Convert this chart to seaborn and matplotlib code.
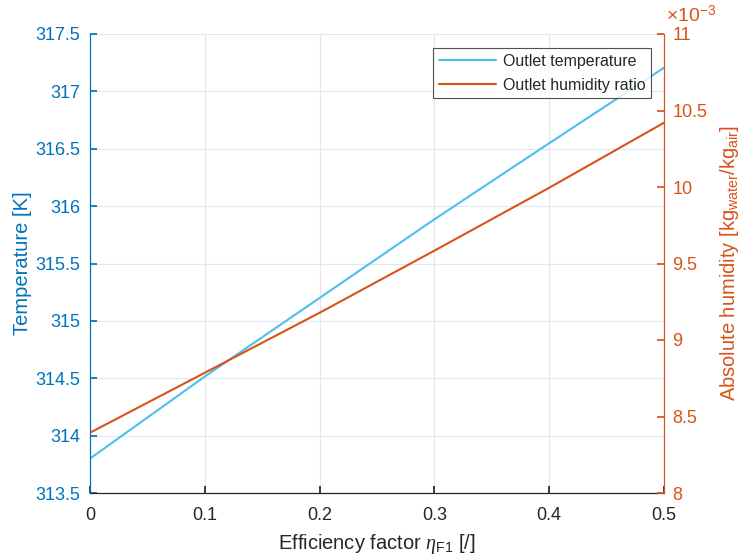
import numpy as np
import pandas as pd
import matplotlib
matplotlib.use("Agg")
import matplotlib.pyplot as plt
import seaborn as sns
from matplotlib.ticker import FuncFormatter, MultipleLocator
from matplotlib.lines import Line2D

eta = [0.0, 0.1, 0.2, 0.3, 0.4, 0.5]
temperature = [313.80, 314.515, 315.20, 315.885, 316.548, 317.206]
humidity = [0.008394, 0.008786, 0.009178, 0.009584, 0.009995, 0.010420]

blue_line = "#4DBEEE"
blue_axis = "#0072BD"
orange = "#D95319"
dark = "#262626"

sns.set_theme(style="white")
plt.rcParams["font.family"] = ["Liberation Sans", "DejaVu Sans"]
plt.rcParams["mathtext.fontset"] = "custom"
plt.rcParams["mathtext.rm"] = "Liberation Sans"
plt.rcParams["mathtext.it"] = "Liberation Serif:italic"

df = pd.DataFrame({"eta": eta, "T": temperature, "H": humidity})

fig = plt.figure(figsize=(7.42, 5.55), dpi=100)
ax = fig.add_axes([90 / 742, 1 - 493 / 555, (664 - 90) / 742, (493 - 34) / 555])
ax2 = ax.twinx()

sns.lineplot(data=df, x="eta", y="T", ax=ax, color=blue_line, lw=1.5)
sns.lineplot(data=df, x="eta", y="H", ax=ax2, color=orange, lw=1.5)

ax.set_xlim(0, 0.5)
ax.set_ylim(313.5, 317.5)
ax2.set_ylim(0.008, 0.011)
ax.xaxis.set_major_locator(MultipleLocator(0.1))
ax.yaxis.set_major_locator(MultipleLocator(0.5))
ax2.yaxis.set_major_locator(MultipleLocator(0.0005))
ax.xaxis.set_major_formatter(FuncFormatter(lambda v, p: f"{v:g}"))
ax.yaxis.set_major_formatter(FuncFormatter(lambda v, p: f"{v:g}"))
ax2.yaxis.set_major_formatter(FuncFormatter(lambda v, p: f"{round(v * 1e3, 3):g}"))

# grids
ax.set_axisbelow(True)
for x in [0.1, 0.2, 0.3, 0.4]:
    ax.axvline(x, color="#e6e6e6", lw=0.8, zorder=0)
for y in np.arange(313.5, 317.51, 0.5):
    ax.axhline(y, color="#dbeaf6", lw=0.8, zorder=0)

# spines
ax.spines["top"].set_visible(False)
ax2.spines["top"].set_visible(False)
ax.spines["right"].set_visible(False)
ax2.spines["left"].set_visible(False)
ax2.spines["bottom"].set_visible(False)
ax.spines["left"].set_color(blue_axis)
ax.spines["bottom"].set_color(dark)
ax2.spines["right"].set_color(orange)
for s in ["left", "bottom"]:
    ax.spines[s].set_linewidth(0.9)
ax2.spines["right"].set_linewidth(0.9)

ax.tick_params(axis="x", direction="in", length=5, colors=dark, labelsize=13, pad=10, bottom=True)
ax.tick_params(axis="y", direction="in", length=5, colors=blue_axis, labelsize=13, pad=7, left=True)
ax2.tick_params(axis="y", direction="in", length=5, colors=orange, labelsize=13, pad=6, right=True)

ax.set_xlabel(r"Efficiency factor $\eta_{\mathrm{F1}}$ [/]", fontsize=14.5, color=dark, labelpad=6)
ax.set_ylabel("Temperature [K]", fontsize=14.5, color=blue_axis, labelpad=2)
ax2.set_ylabel(r"Absolute humidity [kg$_{\mathrm{water}}$/kg$_{\mathrm{air}}$]", fontsize=14.5,
               color=orange, rotation=90, labelpad=8)

ax2.text(1.003, 1.018, r"$\times$10$^{-3}$", transform=ax2.transAxes, color=orange,
         fontsize=14, ha="left", va="bottom")

handles = [Line2D([], [], color=blue_line, lw=1.5), Line2D([], [], color=orange, lw=1.5)]
leg = ax2.legend(handles, ["Outlet temperature", "Outlet humidity ratio"], loc="upper right",
                 bbox_to_anchor=(0.9775, 0.969), fontsize=11.5, frameon=True, fancybox=False,
                 handlelength=3.6, borderpad=0.35, labelspacing=0.55, handletextpad=0.4,
                 borderaxespad=0)
leg.get_frame().set_edgecolor(dark)
leg.get_frame().set_linewidth(0.8)

fig.savefig("out.png", dpi=100)
